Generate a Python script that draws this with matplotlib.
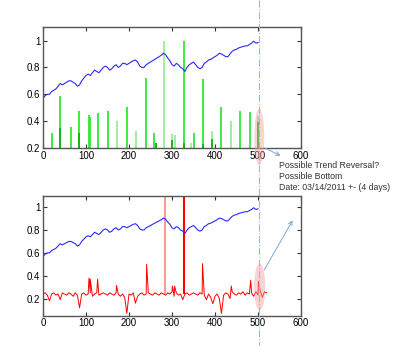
import numpy as np
import matplotlib
matplotlib.use("Agg")
import matplotlib.pyplot as plt
from matplotlib.patches import Ellipse, FancyArrowPatch
from matplotlib.lines import Line2D

plt.rcParams['font.family'] = ['Liberation Sans Narrow', 'Liberation Sans', 'DejaVu Sans']

# normalised price series, sampled every 5 bars
price = [0.57, 0.59, 0.60, 0.60, 0.62, 0.63, 0.64, 0.66, 0.68, 0.67,
         0.68, 0.69, 0.70, 0.70, 0.69, 0.68, 0.66, 0.67, 0.70, 0.72,
         0.74, 0.75, 0.74, 0.76, 0.78, 0.77, 0.76, 0.78, 0.80, 0.81,
         0.80, 0.78, 0.79, 0.81, 0.82, 0.80, 0.81, 0.83, 0.83, 0.82,
         0.83, 0.84, 0.85, 0.855, 0.84, 0.81, 0.80, 0.80, 0.82, 0.83,
         0.84, 0.85, 0.86, 0.87, 0.88, 0.89, 0.905, 0.895, 0.87, 0.85,
         0.82, 0.81, 0.83, 0.82, 0.80, 0.79, 0.77, 0.80, 0.82, 0.83,
         0.84, 0.82, 0.80, 0.79, 0.80, 0.83, 0.84, 0.855, 0.86, 0.87,
         0.88, 0.89, 0.905, 0.90, 0.89, 0.88, 0.88, 0.90, 0.92, 0.93,
         0.935, 0.945, 0.95, 0.955, 0.96, 0.96, 0.97, 0.98, 0.995, 0.98,
         0.985]

# green signal bars (x, height)
green_bright_x = [21, 40, 64, 84, 107, 110, 127, 152, 196, 239, 258, 327, 352, 371, 414, 458, 481]
green_bright_y = [0.31, 0.59, 0.36, 0.475, 0.445, 0.43, 0.46, 0.475, 0.505, 0.72, 0.315, 1.0, 0.315, 0.715, 0.505, 0.475, 0.465]
green_light_x = [171, 216, 282, 301, 308, 345, 394, 438, 500]
green_light_y = [0.40, 0.325, 1.0, 0.305, 0.30, 0.235, 0.33, 0.40, 0.44]
green_dark_x = [40, 84, 263, 301, 327, 371, 394, 500]
green_dark_y = [0.35, 0.31, 0.235, 0.26, 0.235, 0.23, 0.27, 0.395]

# red indicator, sampled every 5 bars, plus single-bar spikes
red_base = [0.24, 0.25, 0.23, 0.18, 0.24, 0.25, 0.23, 0.24, 0.19, 0.25,
            0.24, 0.23, 0.25, 0.24, 0.22, 0.25, 0.23, 0.12, 0.24, 0.25,
            0.23, 0.24, 0.25, 0.22, 0.24, 0.25, 0.23, 0.24, 0.25, 0.24,
            0.23, 0.25, 0.24, 0.23, 0.25, 0.24, 0.22, 0.24, 0.21, 0.07,
            0.24, 0.23, 0.25, 0.16, 0.22, 0.24, 0.25, 0.23, 0.24, 0.25,
            0.24, 0.23, 0.25, 0.24, 0.23, 0.25, 0.24, 0.23, 0.25, 0.24,
            0.26, 0.22, 0.25, 0.23, 0.24, 0.19, 0.24, 0.25, 0.23, 0.24,
            0.25, 0.24, 0.23, 0.25, 0.24, 0.23, 0.19, 0.24, 0.21, 0.155,
            0.22, 0.24, 0.20, 0.07, 0.23, 0.25, 0.24, 0.20, 0.26, 0.24,
            0.23, 0.25, 0.24, 0.26, 0.23, 0.25, 0.24, 0.25, 0.22, 0.26,
            0.23, 0.27, 0.21, 0.26, 0.25]
red_spike_x = [107, 110, 127, 171, 241, 301, 306, 371, 438, 483, 501]
red_spike_y = [0.38, 0.37, 0.37, 0.315, 0.50, 0.31, 0.31, 0.505, 0.31, 0.36, 0.35]
red_bar_x = [283, 328]
red_bar_colors = ['#ff9a9a', '#ff0000']

price_x = np.arange(len(price)) * 5
rx = np.concatenate([np.arange(len(red_base)) * 5, red_spike_x])
ry = np.concatenate([red_base, red_spike_y])
order = np.argsort(rx, kind='stable')
rx, ry = rx[order], ry[order]

fig = plt.figure(figsize=(4.0, 3.56), dpi=100)
ax1 = fig.add_axes([0.1075, 0.584, 0.645, 0.340])
ax2 = fig.add_axes([0.1075, 0.1132, 0.645, 0.337])

ax1.vlines(green_light_x, 0.2, green_light_y, color='#99ee99', lw=1.3)
ax1.vlines(green_bright_x, 0.2, green_bright_y, color='#33e833', lw=1.3)
ax1.vlines(green_dark_x, 0.2, green_dark_y, color='#10b010', lw=1.3)
ax1.plot(price_x, price, color='#2a2aff', lw=0.8)
ax1.set_ylim(0.2, 1.1)

for x, c in zip(red_bar_x, red_bar_colors):
    ax2.vlines(x, 0.24, 1.1, color=c, lw=1.5)
ax2.plot(price_x, price, color='#2a2aff', lw=0.8)
ax2.plot(rx, ry, color='#ff0000', lw=0.7)
ax2.set_ylim(0.05, 1.1)

for ax in (ax1, ax2):
    ax.set_xlim(0, 600)
    ax.set_xticks(range(0, 601, 100))
    ax.set_yticks([0.2, 0.4, 0.6, 0.8, 1.0])
    ax.set_yticklabels(['0.2', '0.4', '0.6', '0.8', '1'])
    ax.tick_params(direction='in', top=True, right=True, length=3, width=0.8,
                   labelsize=7, pad=2, colors='#333333', labelcolor='black')
    for s in ax.spines.values():
        s.set_color('#555555')
        s.set_linewidth(1.0)

# highlight ellipses
ax1.add_patch(Ellipse((503, 0.282), 23, 0.42, facecolor='#f2a0a0', alpha=0.45,
                      edgecolor='none', clip_on=False, zorder=5))
ax2.add_patch(Ellipse((504, 0.302), 26, 0.41, facecolor='#f2a0a0', alpha=0.45,
                      edgecolor='none', clip_on=False, zorder=5))

# vertical dash-dot marker across the figure
fig.add_artist(Line2D([0.647, 0.647], [1.0, 0.03], transform=fig.transFigure,
                      color='#9db8dc', lw=0.8, linestyle='-.'))

# arrows
fig.add_artist(FancyArrowPatch((263 / 400, 1 - 147 / 356), (283 / 400, 1 - 157 / 356),
                               transform=fig.transFigure, arrowstyle='->',
                               mutation_scale=7, color='#7ea6d6', lw=0.7))
fig.add_artist(FancyArrowPatch((263 / 400, 1 - 272 / 356), (294 / 400, 1 - 218 / 356),
                               transform=fig.transFigure, arrowstyle='->',
                               mutation_scale=7, color='#7ea6d6', lw=0.7))

note = {'fontsize': 6.3, 'color': '#333333', 'va': 'center', 'ha': 'left',
        'family': ['Liberation Sans', 'DejaVu Sans']}
fig.text(279 / 400, 1 - 165 / 356, 'Possible Trend Reversal?', **note)
fig.text(279 / 400, 1 - 176.5 / 356, 'Possible Bottom', **note)
fig.text(279 / 400, 1 - 188 / 356, 'Date: 03/14/2011 +- (4 days)', **note)

fig.savefig('out.png', dpi=100)
